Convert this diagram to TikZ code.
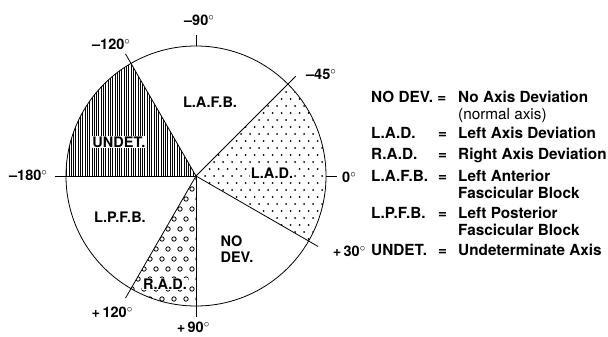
\documentclass[tikz,border=0pt]{standalone}
\usepackage{fontspec}
\setmainfont{TeX Gyre Heros}
\usepackage{tikz}
\usetikzlibrary{patterns.meta}

\newcommand{\dg}{\raisebox{5pt}{\fontsize{11}{11}\selectfont$\circ$}}

\begin{document}
\begin{tikzpicture}[
    x=1pt, y=-1pt,
    every node/.style={font=\bfseries\fontsize{14.5}{16}\selectfont, inner sep=1pt},
    rim/.style={line width=0.8pt},
    spoke/.style={line width=0.8pt},
    hatch/.style={pattern={Lines[angle=90, distance=2.3pt, line width=1pt]}},
    dot/.style={fill=black},
    ring/.style={draw=black, line width=0.8pt},
    bx/.style={fill=white, inner sep=1pt},
    deg/.style={inner sep=0pt},
    key/.style={anchor=base west, inner sep=0pt,
                font=\bfseries\fontsize{15.3}{17}\selectfont},
  ]
  \useasboundingbox (0,0) rectangle (608,337);

  \begin{scope}[shift={(196,176)}]
    \coordinate (o) at (0,0);
    % UNDET. sector, vertical hatching
    \fill[hatch] (o) -- (180:130) arc[start angle=180, end angle=240, radius=130] -- cycle;
    % L.A.D. sector, small dots
    \begin{scope}
      \clip (o) -- (-45:130) arc[start angle=-45, end angle=30, radius=130] -- cycle;
      \foreach \j in {-14,...,10}
        \foreach \i in {-7,...,22}
          \fill[dot] (\i*9+\j*4.5, \j*7) circle[radius=1];
    \end{scope}
    % R.A.D. sector, little rings
    \begin{scope}
      \clip (o) -- (90:130) arc[start angle=90, end angle=120, radius=130] -- cycle;
      \foreach \j in {0,...,13}
        \foreach \i in {-12,...,1}
          \draw[ring] (\i*12+\j*6+2, \j*10+3) circle[radius=2.2];
    \end{scope}
    \draw[rim] (o) circle[radius=130];
    \foreach \a in {-180,-120,-45,30,90,120}
      \draw[spoke] (o) -- (\a:141);
    \foreach \a in {-90,0}
      \draw[spoke] (\a:130) -- (\a:141);
  \end{scope}

  % degree marks
  \node[deg] (d90)  at (199,20)  {--90\dg};
  \node[deg] (d120) at (111,44)  {--120\dg};
  \node[deg] (d45)  at (321,74)  {--45\dg};
  \node[deg] (d180) at (28,175)  {--180\dg};
  \node[deg] (d0)   at (349,177) {0\dg};
  \node[deg] (p30)  at (349,251) {+\,30\dg};
  \node[deg] (p90)  at (193,327) {+\,90\dg};
  \node[deg] (p120) at (112,312) {+\,120\dg};

  % sector names
  \node (lafb) at (210,102) {L.A.F.B.};
  \node[bx] (undet) at (119,142) {UNDET.};
  \node[bx] (lad) at (272,173) {L.A.D.};
  \node (lpfb) at (120,217) {L.P.F.B.};
  \node[align=left] (nodev) at (237,249) {NO\\DEV.};
  \node[bx] (rad) at (165,284) {R.A.D.};

  % key
  \node[key] (k1) at (371,102.5) {NO DEV.\ =};
  \node[key] (t1) at (458,102.5) {No Axis Deviation};
  \node[key, font=\mdseries\fontsize{15.3}{17}\selectfont] (t1b) at (458,119.5) {(normal axis)};
  \node[key] (k2) at (371,139) {L.A.D.};
  \node[key] (e2) at (438,139) {=};
  \node[key] (t2) at (458,139) {Left Axis Deviation};
  \node[key] (k3) at (371,159.5) {R.A.D.};
  \node[key] (e3) at (438,159.5) {=};
  \node[key] (t3) at (458,159.5) {Right Axis Deviation};
  \node[key] (k4) at (371,181.5) {L.A.F.B.};
  \node[key] (e4) at (438,181.5) {=};
  \node[key] (t4) at (458,181.5) {Left Anterior};
  \node[key] (t4b) at (458,198.5) {Fascicular Block};
  \node[key] (k5) at (371,218.5) {L.P.F.B.};
  \node[key] (e5) at (438,218.5) {=};
  \node[key] (t5) at (458,218.5) {Left Posterior};
  \node[key] (t5b) at (458,235.5) {Fascicular Block};
  \node[key] (k6) at (371,255.5) {UNDET.};
  \node[key] (e6) at (438,255.5) {=};
  \node[key] (t6) at (458,255.5) {Undeterminate Axis};
\end{tikzpicture}
\end{document}
